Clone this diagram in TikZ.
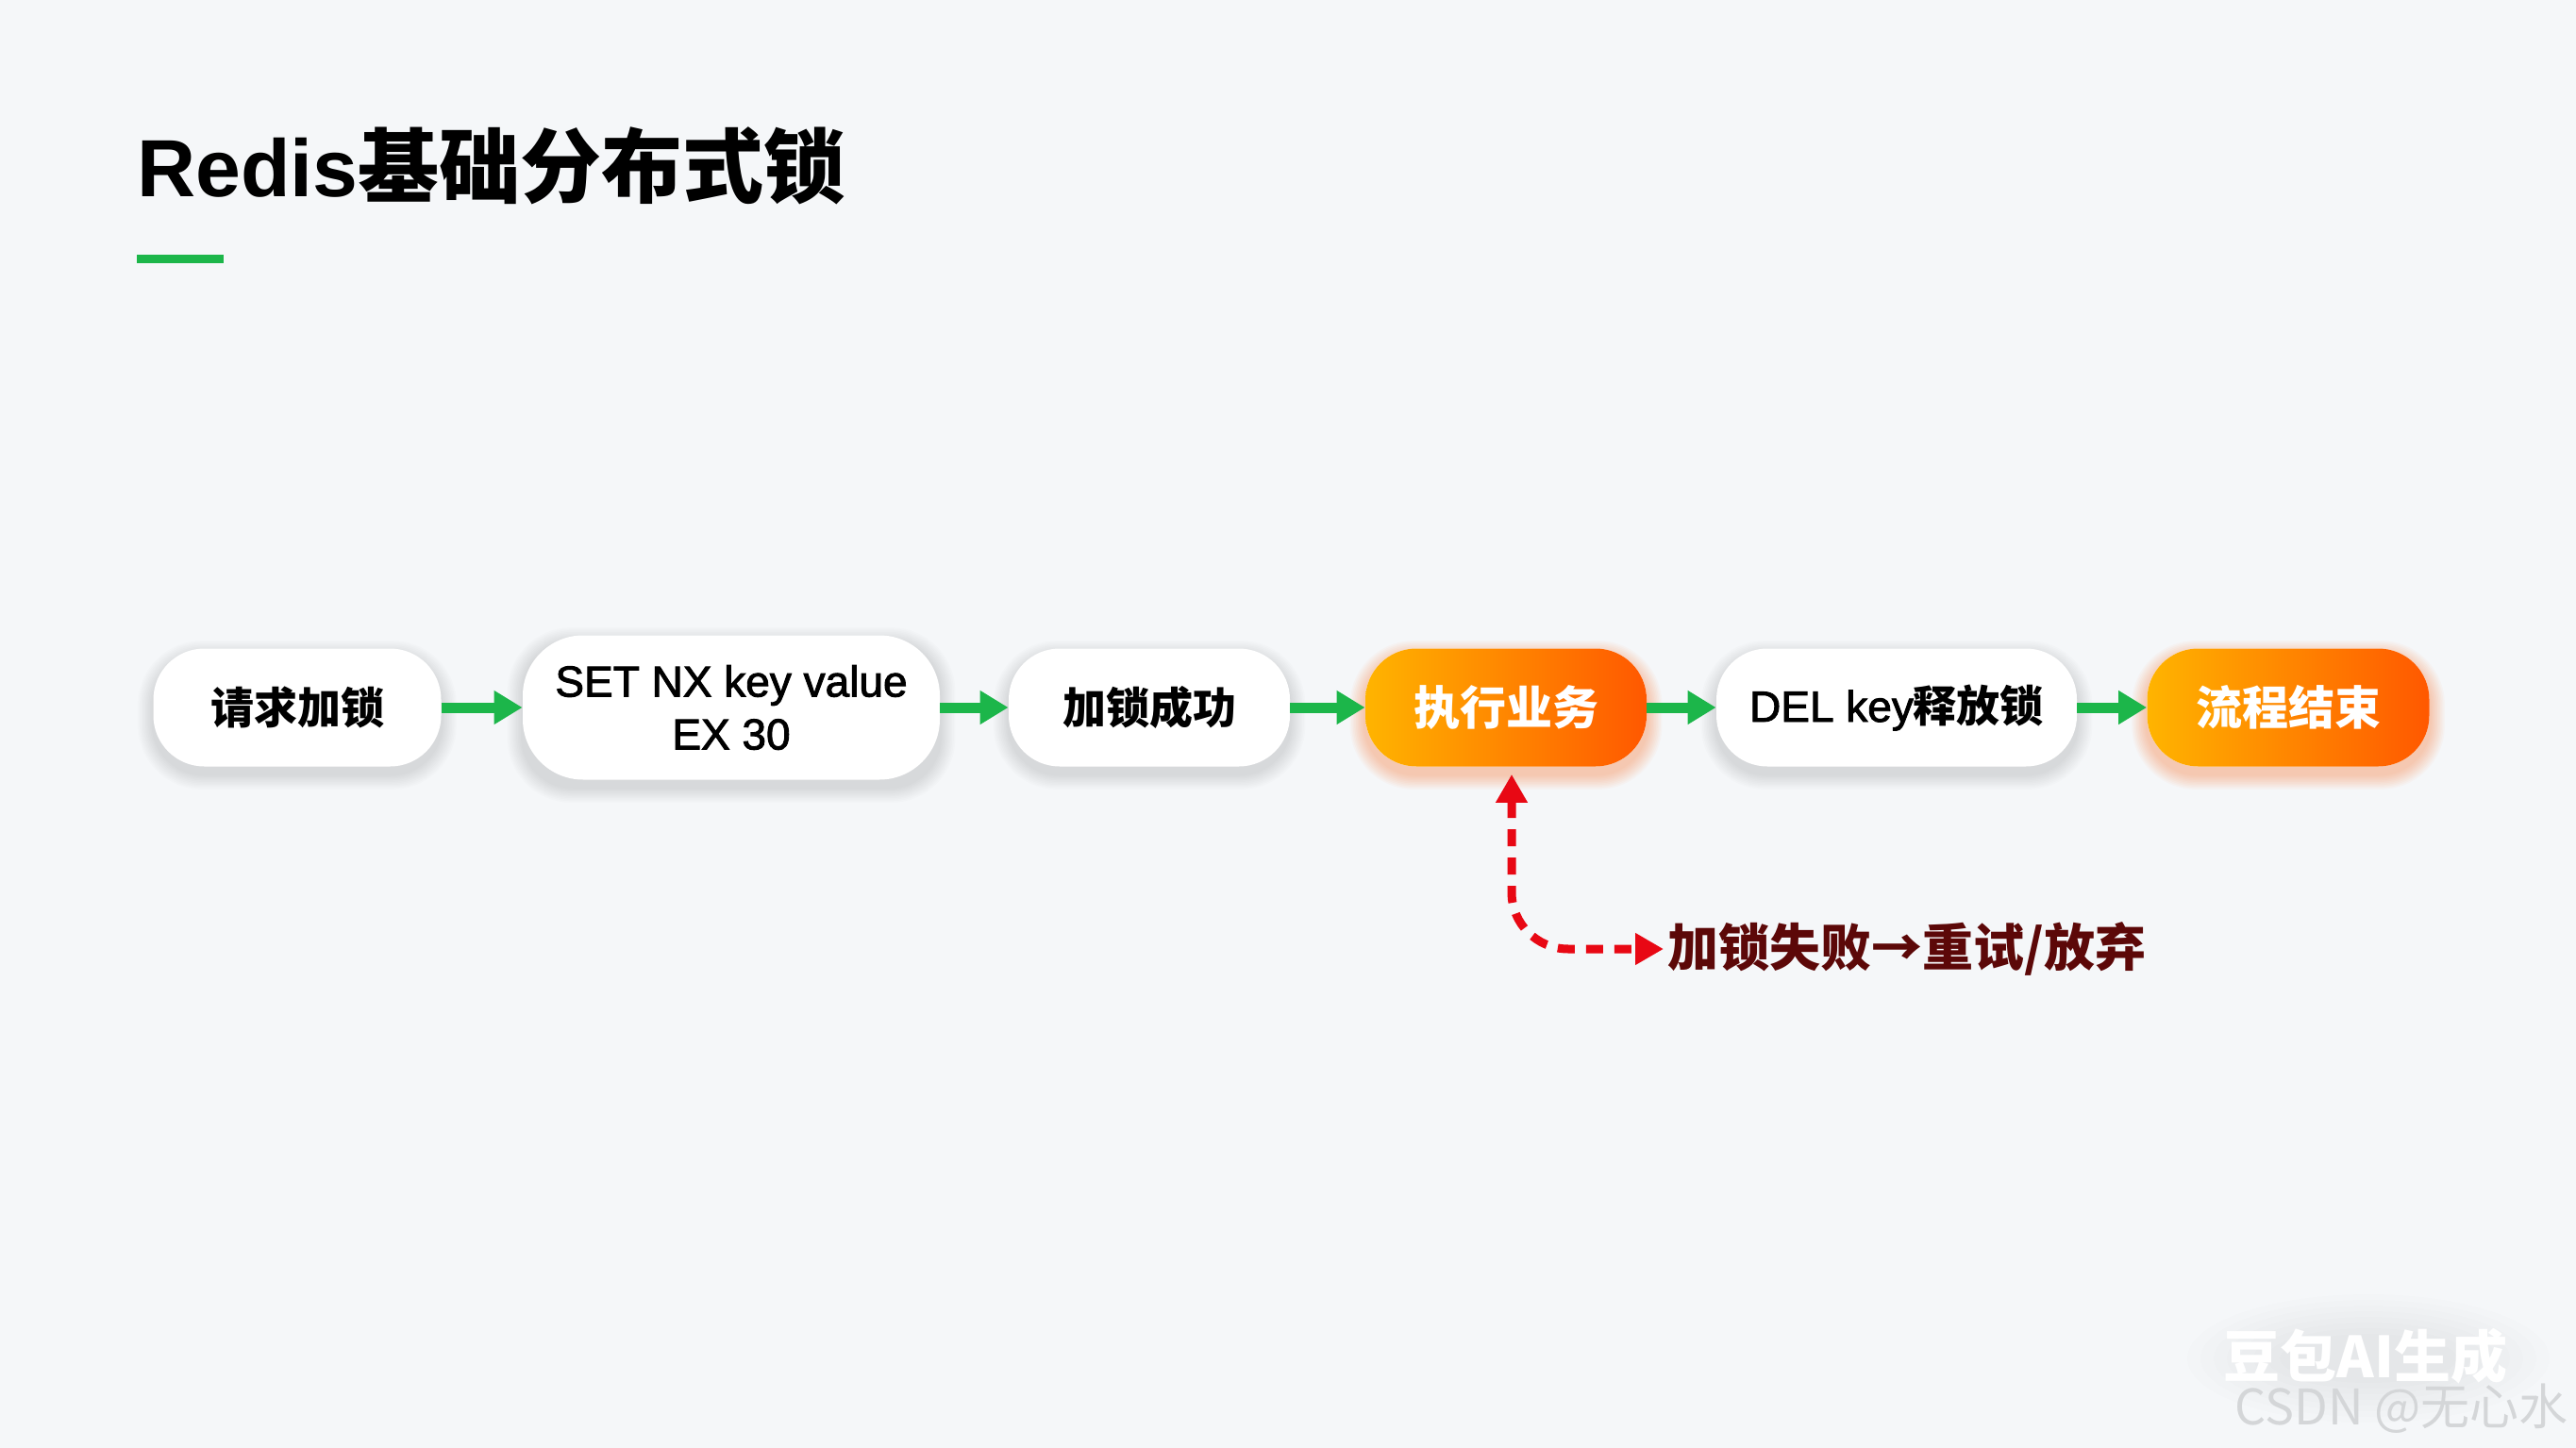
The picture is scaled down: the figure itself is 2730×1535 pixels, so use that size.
\documentclass[tikz,border=0pt]{standalone}
\usepackage{fontspec}
\setmainfont{Liberation Sans}
\newfontfamily\cjk{Noto Sans CJK SC}
\newfontfamily\latm{Liberation Sans}[FakeBold=2]
\usetikzlibrary{arrows.meta,calc}
\definecolor{bgc}{RGB}{245,247,249}
\definecolor{grn}{RGB}{28,182,74}
\definecolor{redc}{RGB}{232,8,20}
\definecolor{darkred}{RGB}{92,8,8}
\definecolor{orA}{RGB}{255,180,0}
\definecolor{orB}{RGB}{255,88,0}
\definecolor{wmgray}{RGB}{212,214,216}
\newcommand\zh[1]{{\cjk\bfseries #1}}
\pgfdeclarelayer{shadow}
\pgfsetlayers{shadow,main}
\newcommand\softshadow[3]{%
  \foreach \i in {1,...,10}{%
    \fill[#2, opacity=#3, rounded corners={27pt+\i*0.7pt}]
      ($(#1.south west)+(-\i*1.6,\i*1.6+8)$) rectangle ($(#1.north east)+(\i*1.6,-\i*1.6+8)$);
  }}
\begin{document}
\begin{tikzpicture}[x=0.5pt,y=-0.5pt,
  box/.style={fill=white, rounded corners=27pt, minimum height=62.5pt, inner sep=0pt,
    align=center, font=\latm\fontsize{23}{28}\selectfont},
  obox/.style={box, text=white, left color=orA, right color=orB,
    font=\fontsize{24.5}{28}\selectfont\bfseries},
  garrow/.style={draw=grn, line width=5.5pt, -{Triangle[length=15pt,width=17pt]}},
  rarrow/.style={draw=redc, line width=4.5pt, dash pattern=on 9pt off 6pt,
    {Triangle[length=15pt,width=16pt]}-{Triangle[length=15pt,width=16pt]}},
]
\begin{pgfonlayer}{shadow}
  \fill[bgc] (0,0) rectangle (2730,1535);
\end{pgfonlayer}

% title
\node[anchor=base west, inner sep=0pt, font=\fontsize{43}{50}\selectfont\bfseries] (title) at (145,209)
  {Redis{\cjk 基础分布式锁}};
\fill[grn] (145,270) rectangle (237,279);

% nodes
\node[box, minimum width=152.5pt] (n1) at (315,750) {\zh{请求加锁}};
\node[box, minimum width=221pt, minimum height=76.5pt, rounded corners=32pt] (n2) at (775,750) {SET NX key value\\EX 30};
\node[box, minimum width=149pt] (n3) at (1218,750) {\zh{加锁成功}};
\node[obox, minimum width=149pt] (n4) at (1596,750) {{\cjk 执行业务}};
\node[box, minimum width=191pt] (n5) at (2010,750) {DEL key\zh{释放锁}};
\node[obox, minimum width=149.5pt] (n6) at (2425,750) {{\cjk 流程结束}};

\begin{pgfonlayer}{shadow}
  \softshadow{n1}{black}{0.011}
  \softshadow{n2}{black}{0.011}
  \softshadow{n3}{black}{0.011}
  \softshadow{n5}{black}{0.011}
  \softshadow{n4}{orB}{0.03}
  \softshadow{n6}{orB}{0.03}
  \foreach \r in {1,...,8}{\fill[black, opacity=0.006] (2510,1440) ellipse ({80+\r*14} and {20+\r*6});}
\end{pgfonlayer}

% arrows
\draw[garrow] (n1.east) -- (n2.west);
\draw[garrow] (n2.east) -- (n3.west);
\draw[garrow] (n3.east) -- (n4.west);
\draw[garrow] (n4.east) -- (n5.west);
\draw[garrow] (n5.east) -- (n6.west);

% failure branch
\node[anchor=west, inner sep=2pt, text=darkred, font=\cjk\bfseries\fontsize{27}{30}\selectfont] (fail) at (1763,1006)
  {加锁失败→重试/放弃};
\draw[rarrow, rounded corners=30pt] ([xshift=3pt,yshift=-4pt]n4.south) |- (fail.west);

% watermark
\node[anchor=base west, inner sep=0pt, text=white, font=\cjk\bfseries\fontsize{30}{30}\selectfont] (wm1) at (2356,1460) {豆包AI生成};
\node[anchor=base west, inner sep=0pt, text=wmgray, font=\cjk\fontsize{26}{30}\selectfont] (wm2) at (2368,1510) {CSDN @无心水};
\end{tikzpicture}
\end{document}
